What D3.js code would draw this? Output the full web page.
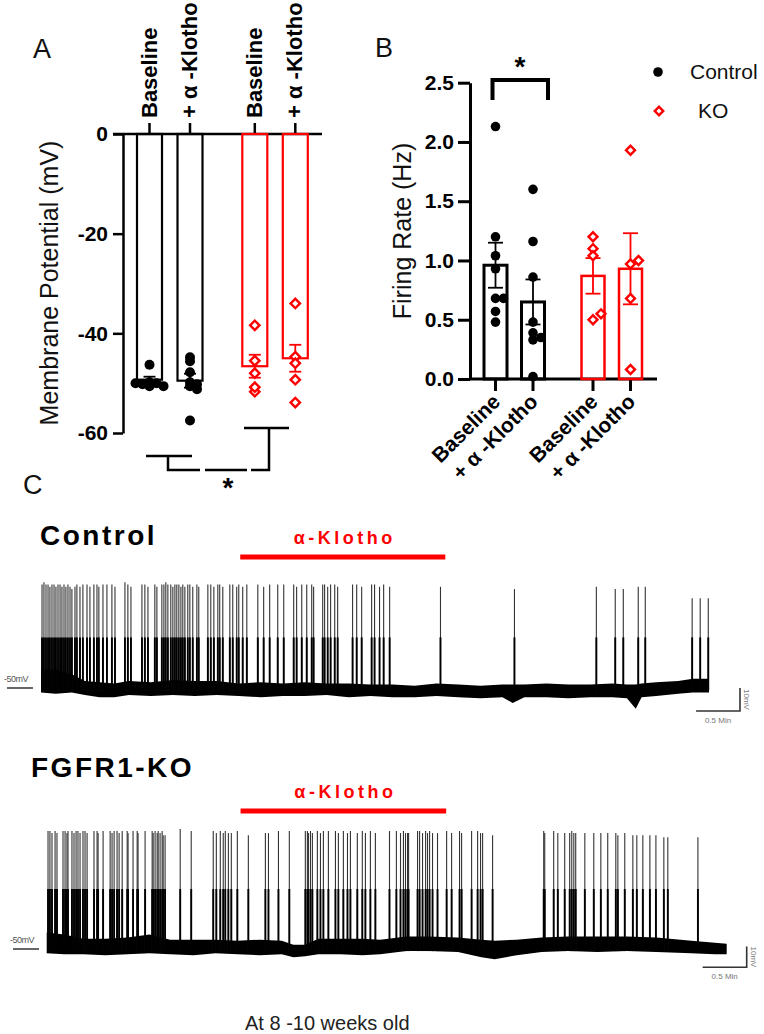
<!DOCTYPE html>
<html>
<head>
<meta charset="utf-8">
<script src="https://cdn.jsdelivr.net/npm/d3@7"></script>
<style>
  body { margin: 0; background: #fff; }
  svg { display: block; font-family: Arial, "Liberation Sans", sans-serif; }
</style>
</head>
<body>
<div id="fig"></div>
<script>
// ---------- data ----------
const groups = ["Baseline", "+ α -Klotho", "Baseline", "+ α -Klotho"];
const genotype = ["Control", "Control", "KO", "KO"];

// panel A : membrane potential (mV)
const mpMean = [-49.3, -49.5, -46.6, -45.0];
const mpSem = [0.6, 1.4, 2.3, 2.7];
const mpPoints = [
  [-46.3, -49.8, -50.0, -50.2, -50.6, -50.6, -50.0],
  [-44.8, -45.6, -47.8, -49.8, -50.2, -50.6, -51.2, -57.5],
  [-38.4, -45.5, -48.0, -51.7, -50.8],
  [-34.0, -44.7, -46.0, -49.3, -53.9]
];

// panel B : firing rate (Hz)
const frMean = [0.96, 0.65, 0.87, 0.93];
const frSem = [0.19, 0.19, 0.15, 0.30];
const frPoints = [
  [2.13, 1.20, 1.04, 0.93, 0.68, 0.68, 0.57, 0.48],
  [1.60, 1.16, 0.86, 0.48, 0.39, 0.35, 0.33, 0.02],
  [1.20, 1.10, 1.04, 0.50, 0.55],
  [1.93, 0.97, 1.00, 0.68, 0.08]
];
const frTicks = [0, 0.5, 1.0, 1.5, 2.0, 2.5];
const mpTicks = [0, -20, -40, -60];

// panel C : traces, time in s, voltage in mV
const klothoCtrl = [136, 276];
const klothoKO = [132, 272];

// baseline noise envelope [t, upper, lower]
const ctrlBase = [
  [0, -42, -52], [10, -42, -52.5], [21, -44, -52], [30, -47, -53], [40, -47.5, -54],
  [50, -48, -54], [60, -47, -53], [75, -47.5, -53.5], [90, -46.5, -53], [105, -47, -53.5],
  [120, -47, -53], [135, -48, -53.5], [150, -47.5, -54], [165, -48, -53.5], [180, -47.5, -53.5],
  [195, -48, -53], [210, -48, -54], [225, -48.5, -53.5], [240, -48.5, -54], [255, -49, -54],
  [270, -48, -53.5], [285, -48.5, -54], [300, -49, -54.5], [315, -48.5, -54], [322, -48.5, -56.5],
  [330, -48.5, -54], [345, -48, -54], [360, -48.5, -54.5], [375, -48.5, -54], [390, -48, -54],
  [400, -48.5, -54.5], [406, -48.5, -59], [410, -48, -54], [420, -47.5, -53.5], [435, -47, -52.5],
  [445, -46, -52], [456, -46, -52]
];
const koBase = [
  [0, -42, -52], [12, -43, -52.5], [25, -45, -52.5], [40, -45, -53], [55, -44.5, -52.5],
  [70, -43, -52], [84, -45.5, -52.5], [100, -45.5, -53], [115, -45.5, -52], [130, -46, -52.5],
  [145, -45.5, -53], [160, -46, -52.5], [168, -48, -54], [176, -48, -53.5], [185, -45, -52.5],
  [200, -45, -52.5], [215, -45, -53], [227, -45.5, -52.5], [245, -44, -51], [260, -44, -51],
  [280, -44.5, -51.5], [296, -45.5, -54], [305, -46, -55], [320, -45.5, -53], [337, -44.5, -51.5],
  [355, -44, -51], [375, -44, -51.5], [395, -44, -51], [415, -44.5, -51.5], [439, -46, -52],
  [455, -47, -52.5], [463, -47.5, -52.5]
];

// spikes [t, peak mV]
const ctrlSpikes = [
  [0.7,-5],[2.0,-4],[3.4,-5],[4.8,-5],[6.1,-6],[7.5,-5],[8.9,-5],[10.2,-6],[11.6,-5],[13.0,-5],
  [14.3,-6],[15.7,-5],[17.0,-6],[18.4,-5],[19.8,-6],[21.1,-7],[23.2,-6],[24.5,-5],[26.6,-6],[28.6,-5],
  [31.4,-5],[33.4,-6],[36.1,-5],[38.2,-5],[39.5,-6],[42.3,-5],[45.0,-5],[48.4,-5],[50.5,-6],[57.3,-4],
  [59.3,-5],[61.4,-6],[68.9,-5],[70.9,-5],[73.0,-6],[77.7,-5],[79.1,-6],[82.5,-5],[83.9,-5],[85.2,-4],
  [86.6,-5],[88.6,-5],[90.0,-6],[91.4,-5],[92.7,-5],[94.1,-5],[95.5,-6],[96.8,-5],[98.2,-6],[100.2,-5],
  [101.6,-5],[103.6,-6],[106.4,-5],[107.7,-6],[113.9,-5],[115.9,-5],[118.0,-6],[120.7,-5],[122.0,-5],[124.1,-6],
  [128.9,-5],[130.9,-5],[133.6,-6],[135.0,-5],[137.7,-6],[140.5,-5],[148.0,-5],[152.0,-6],[156.1,-5],[161.6,-5],
  [165.7,-5],[172.5,-5],[174.5,-6],[178.0,-5],[181.4,-5],[184.8,-5],[186.1,-6],[192.3,-5],[193.6,-5],[195.7,-6],
  [197.7,-5],[200.5,-5],[202.5,-6],[212.7,-5],[215.5,-5],[218.9,-6],[225.7,-5],[227.7,-5],[231.1,-6],[233.9,-5],
  [238.0,-6],[272.7,-6],[323.2,-7],[379.1,-6],[392.0,-7],[397.5,-7],[407.7,-6],[412.5,-6],[444.5,-11],[450.0,-11],
  [455.5,-11]
];
const koSpikes = [
  [0.9,7],[2.2,7],[3.6,6],[5.7,7],[7.0,6],[11.1,7],[12.5,7],[13.8,6],[14.5,7],[17.2,7],
  [18.6,6],[20.0,7],[21.3,7],[22.7,6],[24.7,7],[26.1,7],[27.5,6],[32.2,7],[34.3,7],[35.0,6],
  [38.4,7],[43.2,7],[44.5,6],[45.9,7],[47.9,7],[49.3,6],[51.4,7],[54.8,7],[55.4,6],[58.8,7],
  [61.6,7],[62.2,6],[67.0,7],[71.8,7],[72.5,6],[73.8,7],[75.2,6],[75.9,7],[77.2,6],[78.6,7],
  [79.3,5],[80.6,5],[90.9,8],[98.4,7],[113.4,7],[115.5,6],[118.2,7],[120.2,6],[121.6,7],[123.7,6],
  [125.7,6],[129.8,7],[137.3,5],[148.9,6],[151.0,6],[157.8,7],[165.2,7],[176.1,7],[177.5,7],[178.2,6],
  [179.6,7],[180.9,6],[184.3,7],[186.4,6],[188.4,7],[191.8,7],[196.6,7],[198.6,6],[202.0,7],[204.8,6],
  [206.8,7],[211.5,6],[214.9,7],[217.0,6],[220.4,7],[223.8,6],[233.4,7],[238.1,7],[240.9,6],[242.9,7],
  [244.3,6],[245.7,6],[246.4,6],[252.5,7],[253.9,7],[255.9,6],[258.0,7],[259.3,6],[260.7,7],[262.7,6],
  [266.1,6],[272.3,7],[275.7,6],[281.1,7],[282.5,6],[289.3,7],[293.4,7],[295.4,6],[296.8,6],[303.6,5],
  [338.4,7],[339.1,6],[345.2,7],[348.0,6],[352.7,6],[356.1,6],[357.5,7],[358.9,6],[360.2,6],[366.4,6],
  [372.5,6],[377.3,6],[382.0,6],[387.5,6],[388.9,5],[393.6,6],[399.1,5],[401.8,5],[405.9,5],[410.7,5],
  [414.8,5],[420.2,4],[422.9,4],[443.4,4]
];

// ---------- setup ----------
const RED = "#ff0000";
const colorOf = i => genotype[i] === "KO" ? RED : "#000";
const slot = i => i + (i >= 2 ? 0.6 : 0);

const svg = d3.select("#fig").append("svg").attr("width", 764).attr("height", 1034);

// simple beeswarm offsets (layout only)
function swarm(values, y, step, minDist) {
  const placed = [];
  return values.map(v => {
    const py = y(v);
    let k = 0, off = 0;
    while (k < 20) {
      off = (k % 2 ? 1 : -1) * Math.ceil(k / 2) * step;
      if (placed.every(p => Math.hypot(p[0] - off, p[1] - py) >= minDist)) break;
      k++;
    }
    placed.push([off, py]);
    return off;
  });
}

const diamond = d3.symbol().type(d3.symbolSquare);

function styleAxis(g, width, fontSize) {
  g.select(".domain").attr("stroke", "#000").attr("stroke-width", width);
  g.selectAll(".tick line").attr("stroke", "#000").attr("stroke-width", width);
  g.selectAll(".tick text")
    .attr("font-size", fontSize).attr("font-weight", "bold")
    .attr("font-family", "Arial, 'Liberation Sans', sans-serif").attr("fill", "#000");
}

function panelLabel(txt, x, y) {
  svg.append("text").attr("x", x).attr("y", y).attr("font-size", 27).attr("fill", "#111").text(txt);
}

// ---------- panel A ----------
panelLabel("A", 33, 58);
const yA = d3.scaleLinear().domain([-60, 0]).range([433, 134]);
const xA = d3.scaleLinear().domain([0, 3.6]).range([149.5, 295.3]);
const barWA = 25;

const gA = svg.append("g");
const yAxisA = gA.append("g").attr("transform", "translate(123,0)")
  .call(d3.axisLeft(yA).tickValues(mpTicks).tickSize(10).tickSizeOuter(0).tickPadding(5).tickFormat(d => String(d)));
styleAxis(yAxisA, 2.5, 21);

// top category line with upward ticks
gA.append("line").attr("x1", 113).attr("x2", 322).attr("y1", yA(0)).attr("y2", yA(0))
  .attr("stroke", "#000").attr("stroke-width", 2.5);
gA.selectAll("line.ctick").data(groups).join("line").attr("class", "ctick")
  .attr("x1", (d, i) => xA(slot(i))).attr("x2", (d, i) => xA(slot(i)))
  .attr("y1", yA(0)).attr("y2", yA(0) - 11)
  .attr("stroke", "#000").attr("stroke-width", 2.5);
gA.selectAll("text.clab").data(groups).join("text").attr("class", "clab")
  .attr("transform", (d, i) => `translate(${xA(slot(i)) + 7},${yA(0) - 16}) rotate(-90)`)
  .attr("font-size", 22).attr("font-weight", "bold").attr("fill", "#000")
  .text(d => d);

// hanging bars
gA.selectAll("rect.bar").data(mpMean).join("rect").attr("class", "bar")
  .attr("x", (d, i) => xA(slot(i)) - barWA / 2).attr("width", barWA)
  .attr("y", yA(0)).attr("height", d => yA(d) - yA(0))
  .attr("fill", "none").attr("stroke", (d, i) => colorOf(i)).attr("stroke-width", 2.2);

// error bars
mpMean.forEach((m, i) => {
  const cx = xA(slot(i)), c = colorOf(i);
  const eb = gA.append("g").attr("stroke", c).attr("stroke-width", 1.8);
  eb.append("line").attr("x1", cx).attr("x2", cx).attr("y1", yA(m - mpSem[i])).attr("y2", yA(m + mpSem[i]));
  [m - mpSem[i], m + mpSem[i]].forEach(v =>
    eb.append("line").attr("x1", cx - 6).attr("x2", cx + 6).attr("y1", yA(v)).attr("y2", yA(v)));
});

// points
mpPoints.forEach((vals, i) => {
  const offs = swarm(vals, yA, 7, 3);
  const cx = xA(slot(i));
  if (genotype[i] === "KO") {
    gA.selectAll(null).data(vals).join("path")
      .attr("d", diamond.size(44)())
      .attr("transform", (d, j) => `translate(${cx + offs[j]},${yA(d)}) rotate(45)`)
      .attr("fill", "#fff").attr("stroke", RED).attr("stroke-width", 2.4);
  } else {
    gA.selectAll(null).data(vals).join("circle")
      .attr("cx", (d, j) => cx + offs[j]).attr("cy", d => yA(d)).attr("r", 5)
      .attr("fill", "#000");
  }
});

// y title
gA.append("text").attr("transform", `translate(58,283) rotate(-90)`)
  .attr("text-anchor", "middle").attr("font-size", 25).attr("fill", "#111")
  .text("Membrane Potential (mV)");

// significance bracket under A
const brA = gA.append("g").attr("stroke", "#000").attr("stroke-width", 2.5).attr("fill", "none");
brA.append("path").attr("d", "M146,456 H192 M168,456 V470 H200");
brA.append("path").attr("d", "M205,470 H247");
brA.append("path").attr("d", "M251,470 H269 V428 M244,428 H289");
gA.append("text").attr("x", 228).attr("y", 497).attr("text-anchor", "middle")
  .attr("font-size", 28).attr("font-weight", "bold").text("*");

// ---------- panel B ----------
panelLabel("B", 375, 57);
const yB = d3.scaleLinear().domain([0, 2.5]).range([379, 82.7]);
const xB = d3.scaleLinear().domain([0, 3.6]).range([495.5, 630.5]);
const barWB = 23;

const gB = svg.append("g");
const yAxisB = gB.append("g").attr("transform", "translate(470,0)")
  .call(d3.axisLeft(yB).tickValues(frTicks).tickSize(12).tickSizeOuter(0).tickPadding(4).tickFormat(d3.format(".1f")));
styleAxis(yAxisB, 3, 21);

gB.append("line").attr("x1", 470).attr("x2", 657).attr("y1", yB(0)).attr("y2", yB(0))
  .attr("stroke", "#000").attr("stroke-width", 3);
gB.selectAll("line.ctick").data(groups).join("line").attr("class", "ctick")
  .attr("x1", (d, i) => xB(slot(i))).attr("x2", (d, i) => xB(slot(i)))
  .attr("y1", yB(0)).attr("y2", yB(0) + 12)
  .attr("stroke", "#000").attr("stroke-width", 3);
gB.selectAll("text.clab").data(groups).join("text").attr("class", "clab")
  .attr("transform", (d, i) => `translate(${xB(slot(i)) + 6},${yB(0) + 24}) rotate(-45)`)
  .attr("text-anchor", "end")
  .attr("font-size", 21).attr("font-weight", "bold").attr("fill", "#000")
  .text(d => d);

gB.selectAll("rect.bar").data(frMean).join("rect").attr("class", "bar")
  .attr("x", (d, i) => xB(slot(i)) - barWB / 2).attr("width", barWB)
  .attr("y", d => yB(d)).attr("height", d => yB(0) - yB(d))
  .attr("fill", "none").attr("stroke", (d, i) => colorOf(i))
  .attr("stroke-width", (d, i) => genotype[i] === "KO" ? 2.5 : 3);

frMean.forEach((m, i) => {
  const cx = xB(slot(i)), c = colorOf(i);
  const eb = gB.append("g").attr("stroke", c).attr("stroke-width", 1.8);
  eb.append("line").attr("x1", cx).attr("x2", cx).attr("y1", yB(m - frSem[i])).attr("y2", yB(m + frSem[i]));
  [m - frSem[i], m + frSem[i]].forEach(v =>
    eb.append("line").attr("x1", cx - 7.5).attr("x2", cx + 7.5).attr("y1", yB(v)).attr("y2", yB(v)));
});

frPoints.forEach((vals, i) => {
  const offs = swarm(vals, yB, 8, 6);
  const cx = xB(slot(i));
  if (genotype[i] === "KO") {
    gB.selectAll(null).data(vals).join("path")
      .attr("d", diamond.size(40)())
      .attr("transform", (d, j) => `translate(${cx + offs[j]},${yB(d)}) rotate(45)`)
      .attr("fill", "#fff").attr("stroke", RED).attr("stroke-width", 2.4);
  } else {
    gB.selectAll(null).data(vals).join("circle")
      .attr("cx", (d, j) => cx + offs[j]).attr("cy", d => yB(d)).attr("r", 4.8)
      .attr("fill", "#000");
  }
});

gB.append("text").attr("transform", `translate(411,231) rotate(-90)`)
  .attr("text-anchor", "middle").attr("font-size", 25).attr("fill", "#111")
  .text("Firing Rate (Hz)");

// bracket + star
gB.append("path").attr("d", `M${xB(0) - 3},100 V80 H${xB(1) + 15} V100`)
  .attr("fill", "none").attr("stroke", "#000").attr("stroke-width", 4);
gB.append("text").attr("x", 520).attr("y", 76).attr("text-anchor", "middle")
  .attr("font-size", 28).attr("font-weight", "bold").text("*");

// legend
const leg = gB.append("g");
leg.append("circle").attr("cx", 658).attr("cy", 72).attr("r", 4.8).attr("fill", "#000");
leg.append("text").attr("x", 690).attr("y", 79).attr("font-size", 21).attr("fill", "#111").text("Control");
leg.append("path").attr("d", diamond.size(36)())
  .attr("transform", "translate(659,111) rotate(45)")
  .attr("fill", "#fff").attr("stroke", RED).attr("stroke-width", 2.4);
leg.append("text").attr("x", 698).attr("y", 118).attr("font-size", 21).attr("fill", "#111").text("KO");

// ---------- panel C ----------
panelLabel("C", 23, 494);

function drawTrace(cfg) {
  const g = svg.append("g");
  const x = d3.scaleLinear().domain(cfg.domainT).range(cfg.rangeX);
  const y = d3.scaleLinear().domain(cfg.domainV).range(cfg.rangeY);

  g.append("text").attr("x", cfg.titleX).attr("y", cfg.titleY)
    .attr("font-size", 28).attr("font-weight", "bold").attr("letter-spacing", 2.5)
    .attr("fill", "#000").text(cfg.title);

  // α-Klotho application bar
  const kx0 = x(cfg.klotho[0]), kx1 = x(cfg.klotho[1]);
  g.append("line").attr("x1", kx0).attr("x2", kx1).attr("y1", cfg.barY).attr("y2", cfg.barY)
    .attr("stroke", RED).attr("stroke-width", 5);
  g.append("text").attr("x", (kx0 + kx1) / 2 + 2).attr("y", cfg.barY - 13)
    .attr("text-anchor", "middle").attr("font-size", 18).attr("font-weight", "bold")
    .attr("letter-spacing", 3.5).attr("fill", RED).text("α-Klotho");

  // baseline noise band
  g.append("path").datum(cfg.base)
    .attr("d", d3.area().x(d => x(d[0])).y0(d => y(d[2])).y1(d => y(d[1])))
    .attr("fill", "#000");

  // spikes: thicker lower part + thin upper part
  g.selectAll(null).data(cfg.spikes).join("line")
    .attr("x1", d => x(d[0])).attr("x2", d => x(d[0]))
    .attr("y1", y(-51)).attr("y2", d => y(d[1]))
    .attr("stroke", "#333").attr("stroke-width", 1.1);
  g.selectAll(null).data(cfg.spikes).join("line")
    .attr("x1", d => x(d[0])).attr("x2", d => x(d[0]))
    .attr("y1", y(-51)).attr("y2", y(cfg.mid))
    .attr("stroke", "#000").attr("stroke-width", 1.9);

  // -50 mV marker
  g.append("text").attr("x", cfg.mvX).attr("y", y(-50) - 6)
    .attr("font-size", 9).attr("fill", "#555").attr("letter-spacing", -0.5).text("-50mV");
  g.append("line").attr("x1", cfg.mvX + 3).attr("x2", cfg.mvX + 29)
    .attr("y1", y(-50)).attr("y2", y(-50)).attr("stroke", "#333").attr("stroke-width", 1.5);

  // scale bar: 0.5 min x 10 mV
  const w = x(30) - x(0), h = y(-50) - y(-40);
  const sx = cfg.scaleX, sy = cfg.scaleY;
  g.append("path").attr("d", `M${sx - w},${sy} H${sx} V${sy - h}`)
    .attr("fill", "none").attr("stroke", "#333").attr("stroke-width", 1.6);
  g.append("text").attr("x", sx - w / 2).attr("y", sy + 12).attr("text-anchor", "middle")
    .attr("font-size", 8).attr("fill", "#777").text("0.5 Min");
  g.append("text").attr("transform", `translate(${sx + 4},${sy - h / 2}) rotate(90)`)
    .attr("text-anchor", "middle").attr("font-size", 8).attr("fill", "#777").text("10mV");
}

drawTrace({
  title: "Control", titleX: 40, titleY: 545,
  domainT: [0, 456], rangeX: [41, 709],
  domainV: [-60, 0], rangeY: [711, 573],
  base: ctrlBase, spikes: ctrlSpikes, mid: -28,
  klotho: klothoCtrl, barY: 557,
  mvX: 4, scaleX: 740, scaleY: 711
});

drawTrace({
  title: "FGFR1-KO", titleX: 31, titleY: 777,
  domainT: [0, 463], rangeX: [46.7, 726.7],
  domainV: [-60, 10], rangeY: [969.7, 824.8],
  base: koBase, spikes: koSpikes, mid: -21,
  klotho: klothoKO, barY: 811,
  mvX: 10, scaleX: 746.7, scaleY: 967.3
});

svg.append("text").attr("x", 245).attr("y", 1030).attr("font-size", 20).attr("fill", "#222")
  .text("At 8 -10 weeks old");
</script>
</body>
</html>
